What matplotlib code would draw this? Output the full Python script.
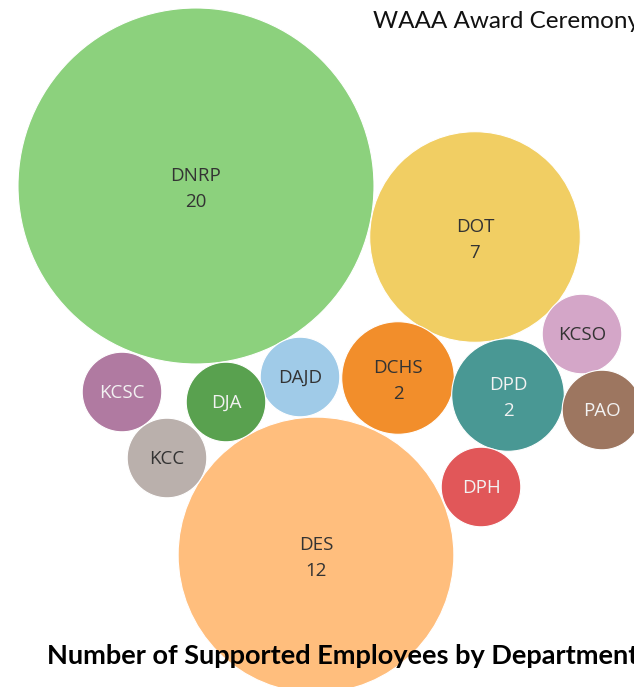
import matplotlib
matplotlib.use("Agg")
import matplotlib.pyplot as plt
from matplotlib.patches import Circle
import numpy as np

# Data
departments = ["DNRP", "DES", "DOT", "DCHS", "DPD", "KCSO", "PAO", "DPH", "DAJD", "DJA", "KCSC", "KCC"]
employees = [20, 12, 7, 2, 2, 1, 1, 1, 1, 1, 1, 1]
colors = ["#8CD17D", "#FFBE7D", "#F1CE63", "#F28E2B", "#499894", "#D4A6C8",
          "#9D7660", "#E15759", "#A0CBE8", "#59A14F", "#B07AA1", "#BAB0AC"]
dark_label = [True, True, True, True, False, True, False, False, True, False, False, True]

# Layout (bubble centres, pixel space)
cx = [196, 316, 475, 398, 508, 582, 602, 481, 300, 226, 122, 167]
cy = [186, 555, 237, 378, 395, 334, 410, 487, 377, 402, 392, 458]
scale = 178 / np.sqrt(20)

W, H = 634, 687
fig = plt.figure(figsize=(W / 100, H / 100), dpi=100)
ax = fig.add_axes([0, 0, 1, 1])
ax.set_xlim(0, W)
ax.set_ylim(H, 0)
ax.set_aspect("equal")
ax.axis("off")

font = ["Open Sans", "DejaVu Sans"]
for name, v, c, d, x, y in zip(departments, employees, colors, dark_label, cx, cy):
    r = scale * np.sqrt(v)
    ax.add_patch(Circle((x, y), r, facecolor=c, edgecolor="white", linewidth=0.8, zorder=2))
    tc = "#333333" if d else "#F2F2F2"
    if v >= 2:
        ax.text(x, y - 10, name, ha="center", va="center", fontsize=13.5, color=tc,
                family=font, zorder=3)
        ax.text(x, y + 16, str(v), ha="center", va="center", fontsize=13.5, color=tc,
                family=font, zorder=3)
    else:
        ax.text(x, y + 1, name, ha="center", va="center", fontsize=13.5, color=tc,
                family=font, zorder=3)

ax.text(373, 22, "WAAA Award Ceremony", ha="left", va="center", fontsize=17.5,
        family=["Lato", "DejaVu Sans"], color="#111111", zorder=4)
ax.text(47, 656, "Number of Supported Employees by Department", ha="left", va="center",
        fontsize=19.5, fontweight="bold", family=["Lato", "DejaVu Sans"], color="black", zorder=4)

fig.savefig("out.png", dpi=100)
